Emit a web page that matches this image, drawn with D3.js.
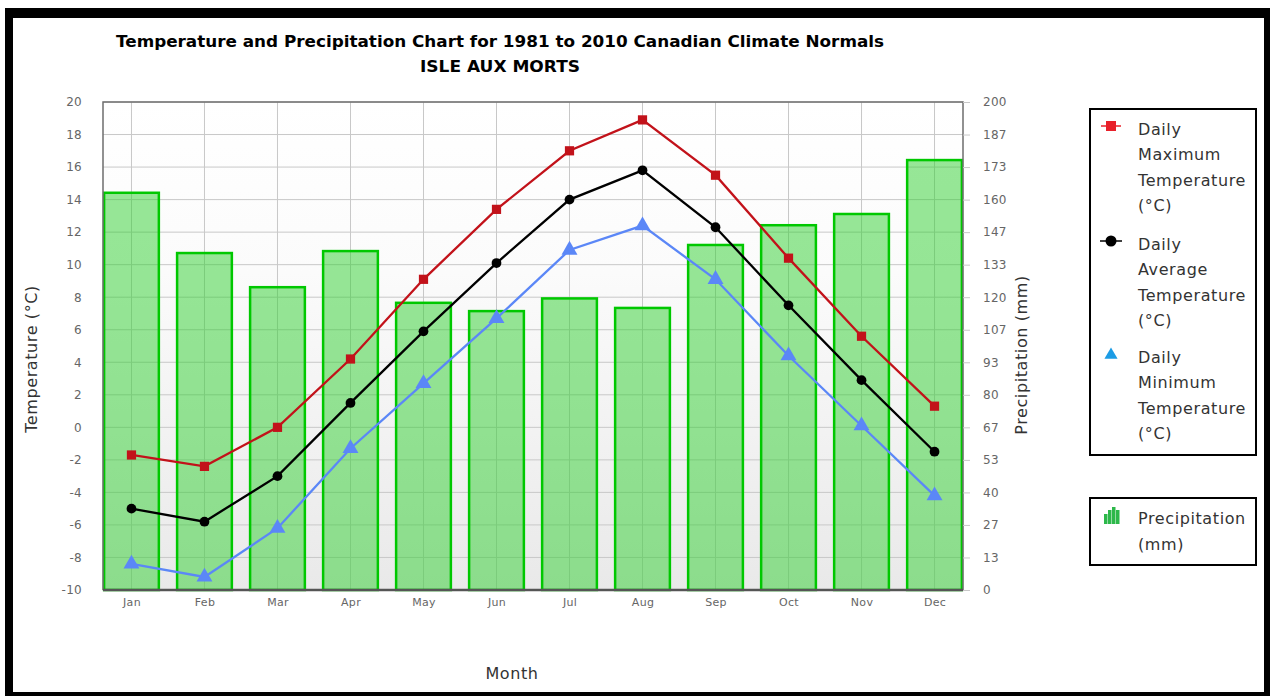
<!DOCTYPE html>
<html>
<head>
<meta charset="utf-8">
<script src="https://cdn.jsdelivr.net/npm/d3@7"></script>
<style>
  body { margin: 0; background: #fff; }
  svg { display: block; font-family: "DejaVu Sans", Verdana, sans-serif; }
  .lbl { font-size: 16px; letter-spacing: 0.6px; fill: #333; }
</style>
</head>
<body>
<div id="chart"></div>
<script>
// climate normals, Isle aux Morts 1981-2010
var months = ["Jan","Feb","Mar","Apr","May","Jun","Jul","Aug","Sep","Oct","Nov","Dec"];
var tMax = [-1.7, -2.4, 0.0, 4.2, 9.1, 13.4, 17.0, 18.9, 15.5, 10.4, 5.6, 1.3];
var tAvg = [-5.0, -5.8, -3.0, 1.5, 5.9, 10.1, 14.0, 15.8, 12.3, 7.5, 2.9, -1.5];
var tMin = [-8.4, -9.2, -6.2, -1.3, 2.7, 6.7, 10.9, 12.4, 9.1, 4.4, 0.1, -4.2];
var precip = [162.8, 138.1, 124.1, 138.9, 117.7, 114.3, 119.5, 115.6, 141.4, 149.5, 154.1, 176.2];
var tempTicks = [-10, -8, -6, -4, -2, 0, 2, 4, 6, 8, 10, 12, 14, 16, 18, 20];
var precipTicks = [0, 13, 27, 40, 53, 67, 80, 93, 107, 120, 133, 147, 160, 173, 187, 200];

var W = 1270, H = 696;
var plot = { left: 103, right: 963, top: 102, bottom: 590 };

var svg = d3.select("#chart").append("svg")
  .attr("width", W)
  .attr("height", H);

// black frame
svg.append("rect").attr("x", 5).attr("y", 8).attr("width", W - 5).attr("height", 10).attr("fill", "#000");
svg.append("rect").attr("x", 5).attr("y", 8).attr("width", 8).attr("height", H - 8).attr("fill", "#000");
svg.append("rect").attr("x", 1264).attr("y", 8).attr("width", 6).attr("height", H - 8).attr("fill", "#000");
svg.append("rect").attr("x", 5).attr("y", 692).attr("width", W - 5).attr("height", 4).attr("fill", "#000");

var x = d3.scalePoint().domain(months).range([plot.left, plot.right]).padding(0.39);
var yT = d3.scaleLinear().domain([-10, 20]).range([plot.bottom, plot.top]);
var yP = d3.scaleLinear().domain([0, 200]).range([plot.bottom, plot.top]);
var barW = x.step() * 0.75;

// plot background
var grad = svg.append("defs").append("linearGradient")
  .attr("id", "bg").attr("x1", 0).attr("y1", 0).attr("x2", 0).attr("y2", 1);
grad.append("stop").attr("offset", "0").attr("stop-color", "#ffffff");
grad.append("stop").attr("offset", "0.35").attr("stop-color", "#fbfbfb");
grad.append("stop").attr("offset", "1").attr("stop-color", "#e9e9e9");

svg.append("rect")
  .attr("x", plot.left).attr("y", plot.top)
  .attr("width", plot.right - plot.left).attr("height", plot.bottom - plot.top)
  .attr("fill", "url(#bg)");

// grid
svg.append("g").selectAll("line").data(tempTicks).enter().append("line")
  .attr("x1", plot.left).attr("x2", plot.right)
  .attr("y1", function(d) { return yT(d); }).attr("y2", function(d) { return yT(d); })
  .attr("stroke", "#c8c8c8").attr("stroke-width", 1);
svg.append("g").selectAll("line").data(months).enter().append("line")
  .attr("x1", function(d) { return x(d); }).attr("x2", function(d) { return x(d); })
  .attr("y1", plot.top).attr("y2", plot.bottom)
  .attr("stroke", "#c8c8c8").attr("stroke-width", 1);

// precipitation bars
svg.append("g").selectAll("rect").data(precip).enter().append("rect")
  .attr("x", function(d, i) { return x(months[i]) - barW / 2; })
  .attr("y", function(d) { return yP(d); })
  .attr("width", barW)
  .attr("height", function(d) { return yP(0) - yP(d); })
  .attr("fill", "#2fcf2f").attr("fill-opacity", 0.5)
  .attr("stroke", "#00c800").attr("stroke-width", 2.5);

// temperature lines
var line = d3.line()
  .x(function(d, i) { return x(months[i]); })
  .y(function(d) { return yT(d); });

function drawSeries(data, color, symbol, size) {
  svg.append("path").datum(data)
    .attr("d", line)
    .attr("fill", "none").attr("stroke", color).attr("stroke-width", 2.3);
  svg.append("g").selectAll("path").data(data).enter().append("path")
    .attr("transform", function(d, i) { return "translate(" + x(months[i]) + "," + yT(d) + ")"; })
    .attr("d", d3.symbol().type(symbol).size(size))
    .attr("fill", color);
}
drawSeries(tMax, "#c2121a", d3.symbolSquare, 85);
drawSeries(tAvg, "#000000", d3.symbolCircle, 75);
drawSeries(tMin, "#5b87f7", d3.symbolTriangle, 110);

// plot border
svg.append("path")
  .attr("d", "M" + plot.left + "," + plot.bottom + "V" + plot.top + "H" + plot.right + "V" + plot.bottom)
  .attr("fill", "none").attr("stroke", "#6e6e6e").attr("stroke-width", 1.5);
svg.append("line")
  .attr("x1", plot.left).attr("x2", plot.right)
  .attr("y1", plot.bottom).attr("y2", plot.bottom)
  .attr("stroke", "#555").attr("stroke-width", 2.5);

// axes
var leftAxis = svg.append("g")
  .attr("transform", "translate(" + plot.left + ",0)")
  .call(d3.axisLeft(yT).tickValues(tempTicks).tickFormat(String).tickSize(0).tickPadding(21));
leftAxis.select(".domain").remove();

var rightAxis = svg.append("g")
  .attr("transform", "translate(" + plot.right + ",0)")
  .call(d3.axisRight(yP).tickValues(precipTicks.map(function(d, i) { return i * 200 / 15; }))
    .tickFormat(function(d, i) { return precipTicks[i]; })
    .tickSize(7).tickPadding(13));
rightAxis.select(".domain").remove();
rightAxis.selectAll(".tick line").attr("stroke", "#c8c8c8");

var bottomAxis = svg.append("g")
  .attr("transform", "translate(0," + plot.bottom + ")")
  .call(d3.axisBottom(x).tickSize(0).tickPadding(8));
bottomAxis.select(".domain").remove();

svg.selectAll(".tick text")
  .attr("fill", "#666")
  .style("font-family", "'DejaVu Sans', Verdana, sans-serif")
  .style("font-size", "12px")
  .style("letter-spacing", "0.3px");
bottomAxis.selectAll(".tick text").style("font-size", "11px");

// titles
svg.append("text")
  .attr("x", 500).attr("y", 47)
  .attr("text-anchor", "middle")
  .attr("textLength", 768).attr("lengthAdjust", "spacingAndGlyphs")
  .style("font-size", "16px").style("font-weight", "bold")
  .attr("fill", "#000")
  .text("Temperature and Precipitation Chart for 1981 to 2010 Canadian Climate Normals");
svg.append("text")
  .attr("x", 500).attr("y", 72)
  .attr("text-anchor", "middle")
  .attr("textLength", 160).attr("lengthAdjust", "spacingAndGlyphs")
  .style("font-size", "16px").style("font-weight", "bold")
  .attr("fill", "#000")
  .text("ISLE AUX MORTS");

svg.append("text")
  .attr("class", "lbl")
  .attr("transform", "translate(37,359) rotate(-90)")
  .attr("text-anchor", "middle")
  .text("Temperature (°C)");
svg.append("text")
  .attr("class", "lbl")
  .attr("transform", "translate(1027,355) rotate(-90)")
  .attr("text-anchor", "middle")
  .text("Precipitation (mm)");
svg.append("text")
  .attr("class", "lbl")
  .attr("x", 512).attr("y", 679)
  .attr("text-anchor", "middle")
  .text("Month");

// legend
var legendItems = [
  { lines: ["Daily", "Maximum", "Temperature", "(°C)"], y: 130, kind: "max" },
  { lines: ["Daily", "Average", "Temperature", "(°C)"], y: 245, kind: "avg" },
  { lines: ["Daily", "Minimum", "Temperature", "(°C)"], y: 358, kind: "min" }
];

svg.append("rect").attr("x", 1090).attr("y", 109).attr("width", 166).attr("height", 346)
  .attr("fill", "#fff").attr("stroke", "#000").attr("stroke-width", 2);
svg.append("rect").attr("x", 1090).attr("y", 498).attr("width", 166).attr("height", 67)
  .attr("fill", "#fff").attr("stroke", "#000").attr("stroke-width", 2);

legendItems.forEach(function(item) {
  var g = svg.append("g");
  item.lines.forEach(function(t, k) {
    g.append("text")
      .attr("class", "lbl")
      .attr("x", 1138).attr("y", item.y + k * 25.3 + 5)
      .text(t);
  });
  var my = item.y - 4;
  if (item.kind == "max") {
    g.append("line").attr("x1", 1101).attr("x2", 1121).attr("y1", my).attr("y2", my)
      .attr("stroke", "#e8202a").attr("stroke-width", 1.5);
    g.append("rect").attr("x", 1106).attr("y", my - 5).attr("width", 10).attr("height", 10).attr("fill", "#e8202a");
  } else if (item.kind == "avg") {
    g.append("line").attr("x1", 1100).attr("x2", 1122).attr("y1", my).attr("y2", my)
      .attr("stroke", "#000").attr("stroke-width", 1.5);
    g.append("circle").attr("cx", 1111).attr("cy", my).attr("r", 5.5).attr("fill", "#000");
  } else {
    g.append("path")
      .attr("transform", "translate(1111," + (my + 1) + ")")
      .attr("d", d3.symbol().type(d3.symbolTriangle).size(75))
      .attr("fill", "#1c9ce5");
  }
});

// precipitation legend
var iconBars = [10, 14, 17, 14];
svg.append("g").selectAll("rect").data(iconBars).enter().append("rect")
  .attr("x", function(d, i) { return 1104 + i * 4; })
  .attr("y", function(d) { return 524 - d; })
  .attr("width", 3.5)
  .attr("height", function(d) { return d; })
  .attr("fill", "#2db84a");
svg.append("text").attr("class", "lbl").attr("x", 1138).attr("y", 524).text("Precipitation");
svg.append("text").attr("class", "lbl").attr("x", 1138).attr("y", 550).text("(mm)");
</script>
</body>
</html>
